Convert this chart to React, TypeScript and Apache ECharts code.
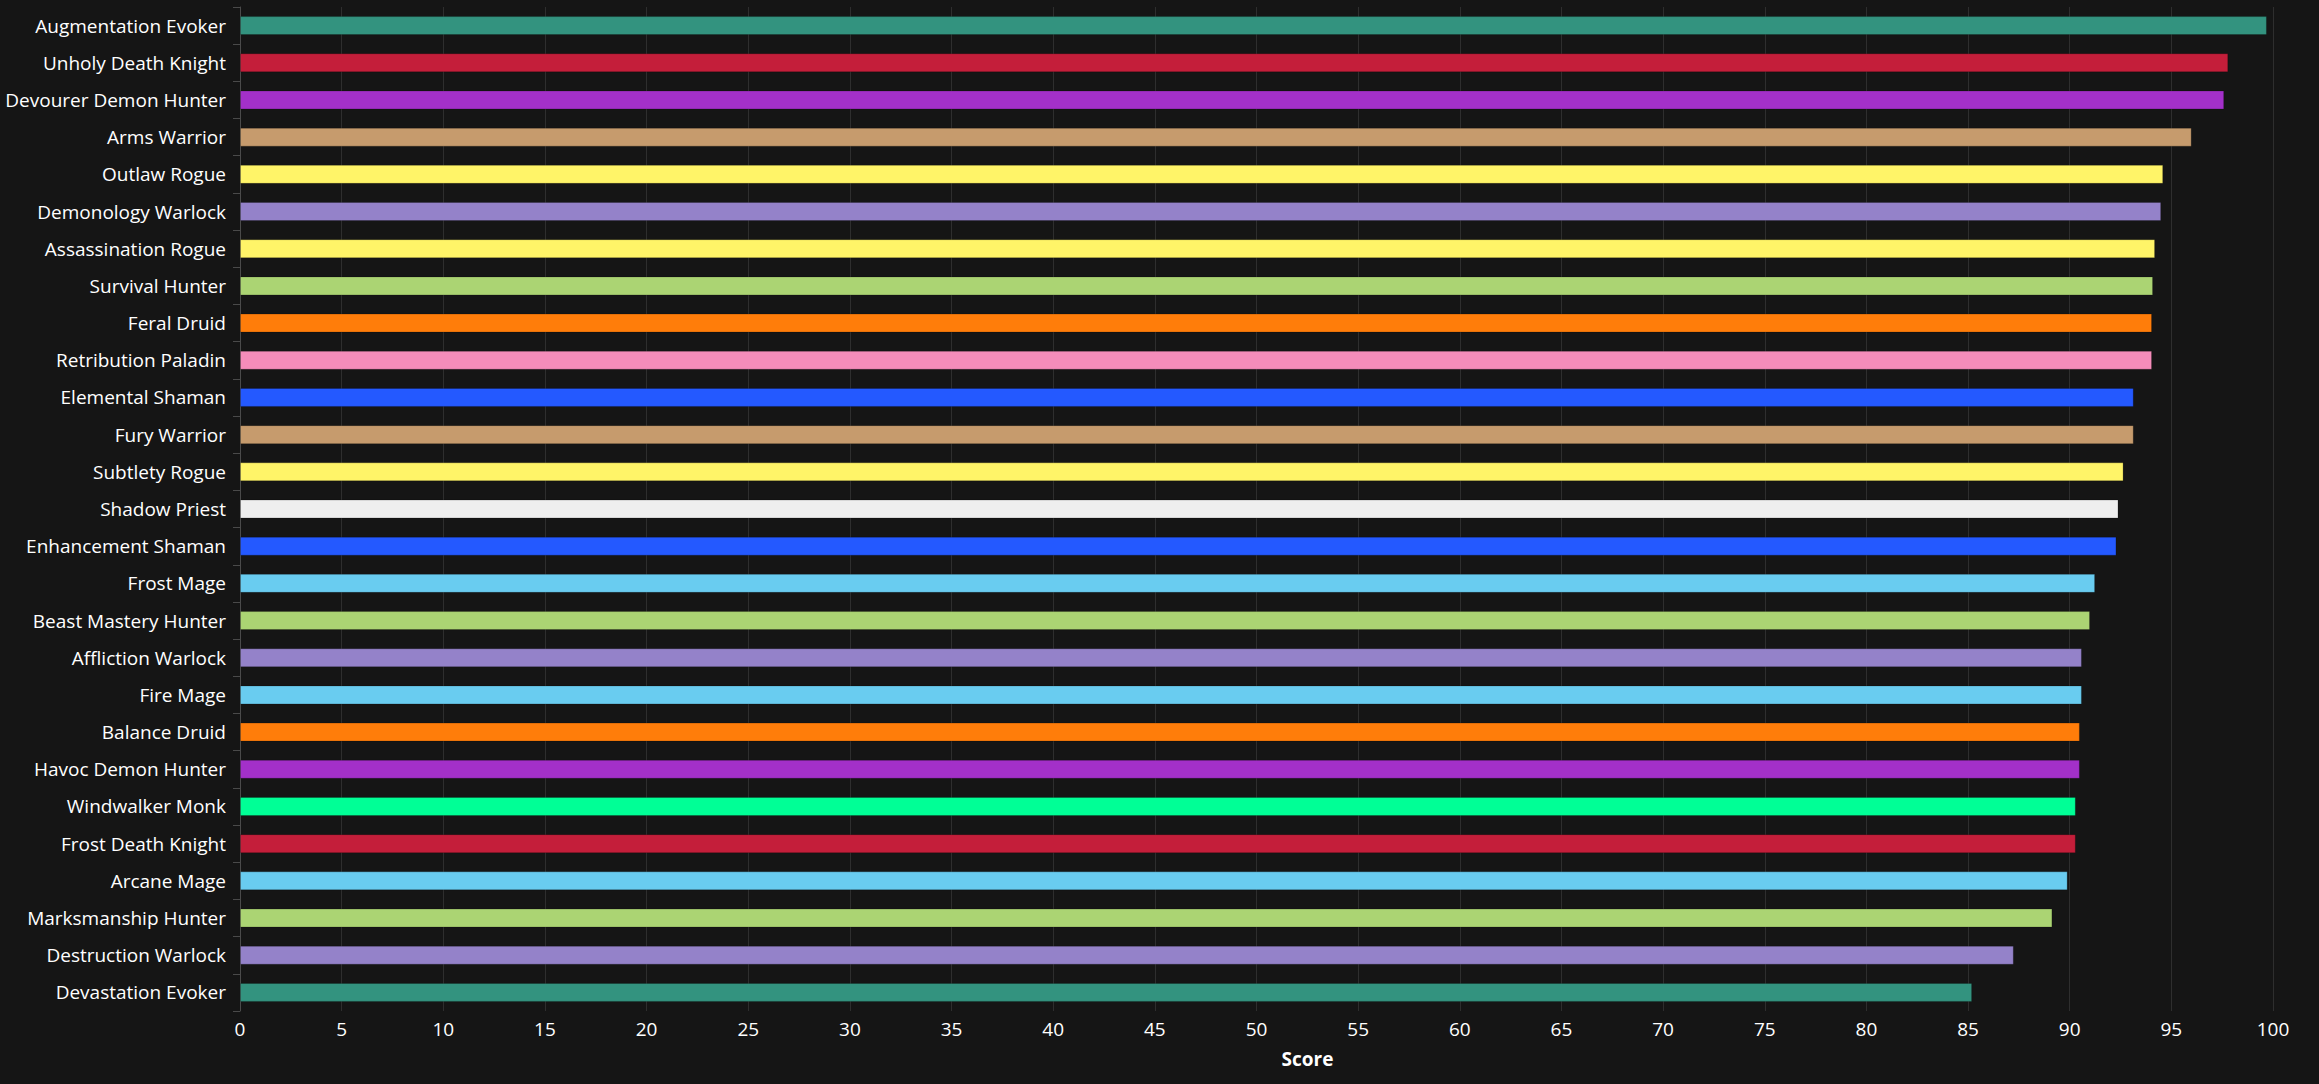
import React, { useEffect, useRef } from 'react';
import * as echarts from 'echarts';

const specs = [
  'Augmentation Evoker', 'Unholy Death Knight', 'Devourer Demon Hunter', 'Arms Warrior',
  'Outlaw Rogue', 'Demonology Warlock', 'Assassination Rogue', 'Survival Hunter',
  'Feral Druid', 'Retribution Paladin', 'Elemental Shaman', 'Fury Warrior',
  'Subtlety Rogue', 'Shadow Priest', 'Enhancement Shaman', 'Frost Mage',
  'Beast Mastery Hunter', 'Affliction Warlock', 'Fire Mage', 'Balance Druid',
  'Havoc Demon Hunter', 'Windwalker Monk', 'Frost Death Knight', 'Arcane Mage',
  'Marksmanship Hunter', 'Destruction Warlock', 'Devastation Evoker',
];

const scores = [
  99.7, 97.8, 97.6, 96.0, 94.6, 94.5, 94.2, 94.1, 94.05,
  94.05, 93.15, 93.15, 92.65, 92.4, 92.3, 91.25, 91.0, 90.6,
  90.6, 90.5, 90.5, 90.3, 90.3, 89.9, 89.15, 87.25, 85.2,
];

const barColors = [
  '#33937F', '#C41E3A', '#A330C9', '#C69B6D', '#FFF468', '#9482C9', '#FFF468', '#ABD473', '#FF7D0A',
  '#F58CBA', '#2459FF', '#C69B6D', '#FFF468', '#EEEEEE', '#2459FF', '#69CCF0', '#ABD473', '#9482C9',
  '#69CCF0', '#FF7D0A', '#A330C9', '#00FF96', '#C41E3A', '#69CCF0', '#ABD473', '#9482C9', '#33937F',
];

const FONT = '"Open Sans", sans-serif';

const App = () => {
  const chartRef = useRef(null);

  useEffect(() => {
    document.body.style.margin = '0';
    const chart = echarts.init(chartRef.current, null, { renderer: 'svg' });

    chart.setOption({
      animation: false,
      backgroundColor: '#151515',
      grid: { left: 240, right: 46, top: 7, bottom: 73, containLabel: false },
      xAxis: {
        type: 'value',
        min: 0,
        max: 100,
        interval: 5,
        name: 'Score',
        nameLocation: 'middle',
        nameGap: 38,
        nameTextStyle: {
          color: '#ffffff',
          fontFamily: FONT,
          fontSize: 19,
          fontWeight: 'bold',
          padding: [0, 0, 0, 102],
        },
        axisLine: { show: false },
        axisTick: { show: false },
        axisLabel: { color: '#ffffff', fontFamily: FONT, fontSize: 19, margin: 8 },
        splitLine: { lineStyle: { color: '#2e2e2e', width: 1 } },
      },
      yAxis: {
        type: 'category',
        inverse: true,
        data: specs,
        axisLine: { show: true, lineStyle: { color: '#4a4a4a' } },
        axisTick: { show: true, length: 7, lineStyle: { color: '#4a4a4a' } },
        axisLabel: { color: '#ffffff', fontFamily: FONT, fontSize: 19, margin: 14 },
        splitLine: { show: false },
      },
      series: [
        {
          type: 'bar',
          barWidth: 19,
          data: scores.map((v, i) => ({
            value: v,
            itemStyle: { color: barColors[i], borderColor: 'rgba(0,0,0,0.2)', borderWidth: 1 },
          })),
        },
      ],
    });

    return () => {
      chart.dispose();
    };
  }, []);

  return <div ref={chartRef} style={{ width: '2319px', height: '1084px' }} />;
};

export default App;
